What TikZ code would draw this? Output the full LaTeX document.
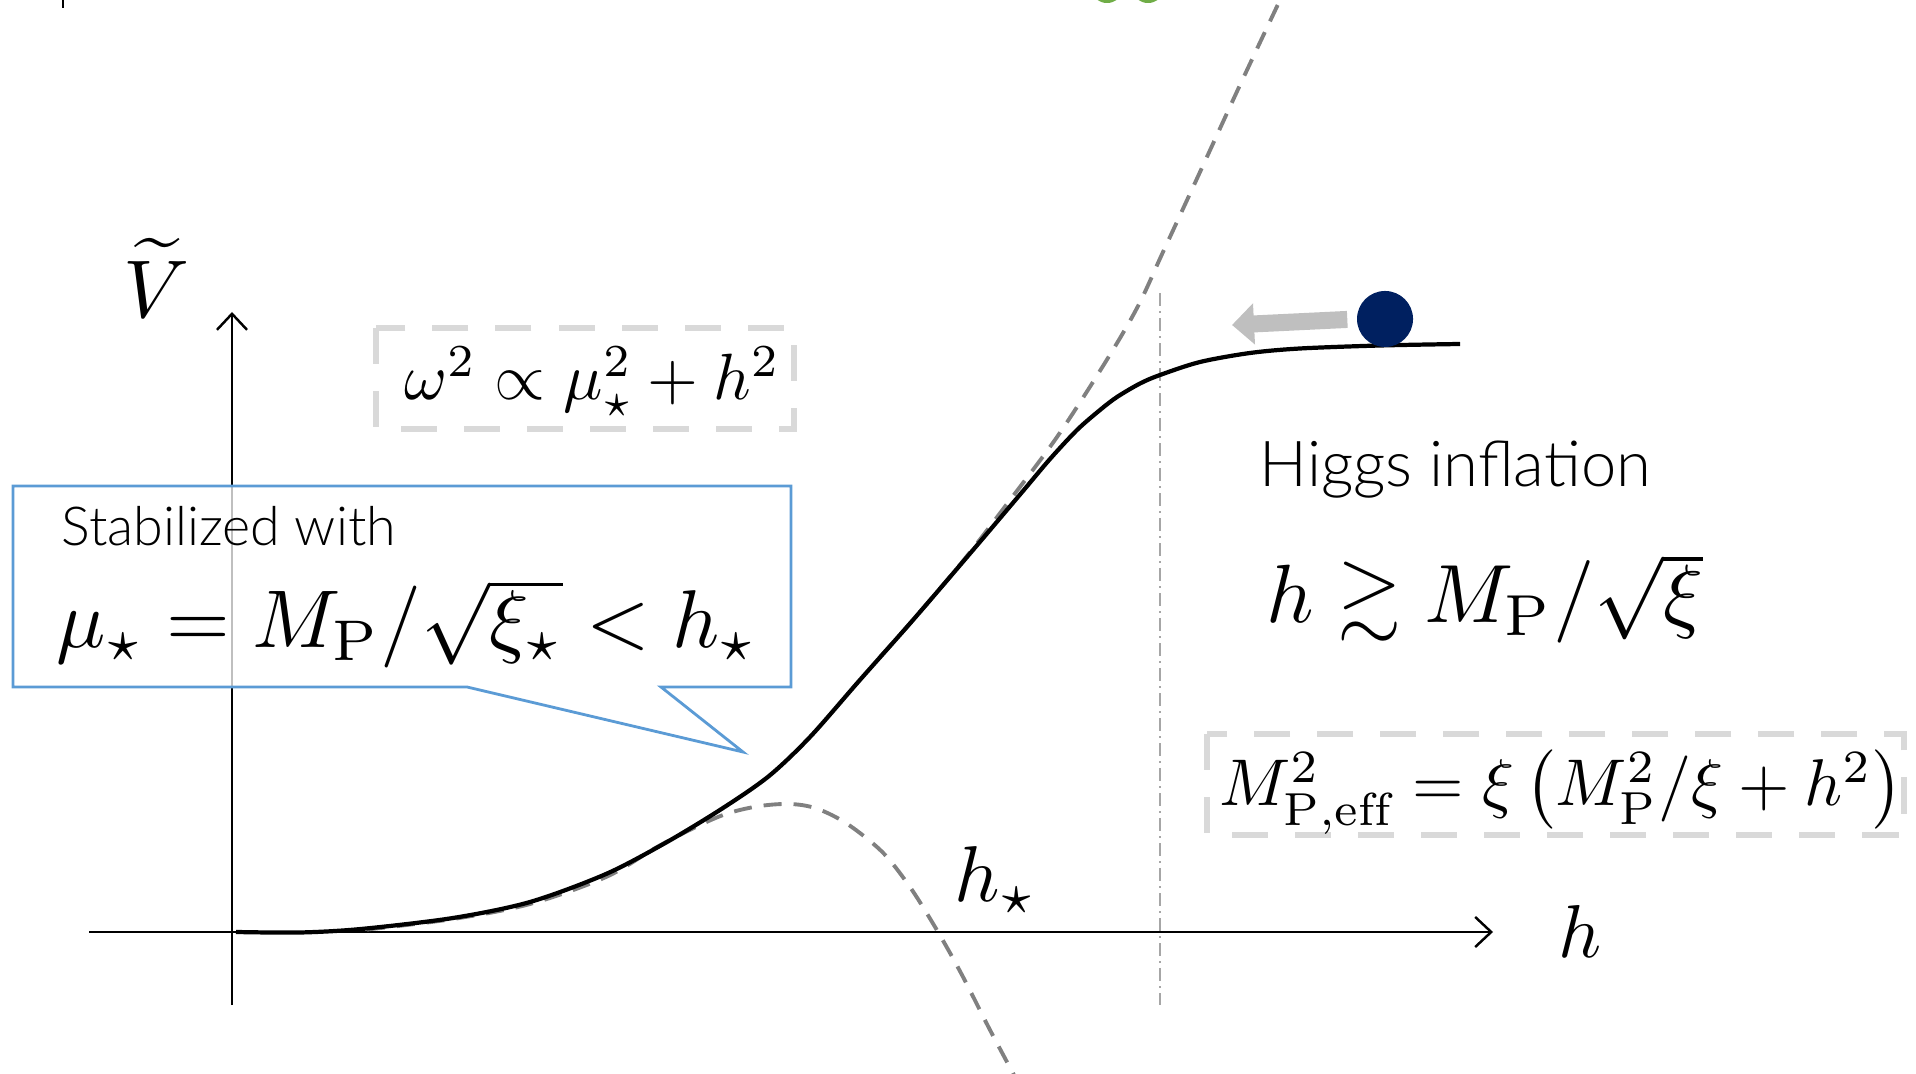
\documentclass[tikz,border=0pt]{standalone}
\usepackage{amssymb}
\usepackage{fontspec}
\newfontfamily\labelfont{Lato Light}
\usetikzlibrary{arrows.meta}
\definecolor{calloutblue}{RGB}{91,155,213}
\definecolor{ballnavy}{RGB}{0,32,96}
\definecolor{boxgray}{RGB}{217,217,217}
\definecolor{arrowgray}{RGB}{191,191,191}
\definecolor{titlegreen}{RGB}{112,173,71}
\tikzset{
  axis/.style={line width=0.7pt,-{Straight Barb[length=1.6mm,width=3mm]}},
  potential/.style={line width=1.2pt},
  guide/.style={black!50,line width=1.1pt,dash pattern=on 0.18cm off 0.12cm},
  threshold/.style={black!35,line width=0.6pt,dash pattern=on 0.13cm off 0.05cm on 0.02cm off 0.05cm},
  formulabox/.style={boxgray,line width=1.7pt,dash pattern=on 0.36cm off 0.27cm},
  callout/.style={draw=calloutblue,line width=0.8pt,fill=white,fill opacity=0.75},
  ball/.style={circle,fill=ballnavy,minimum size=0.56cm,inner sep=0pt},
  rollarrow/.style={arrowgray,line width=0.17cm,shorten <=0.9mm,-{Triangle[length=0.22cm,width=0.4cm]}},
  mathlabel/.style={inner sep=0pt,transform shape},
  textlabel/.style={inner sep=0pt},
}
\begin{document}
\begin{tikzpicture}[x=0.01cm,y=-0.01cm]
\useasboundingbox (0,0) rectangle (1916,1074);
\clip (0,0) rectangle (1916,1074);
% bits of the slide above
\draw[line width=0.6pt] (63,0) -- (63,8);
\fill[titlegreen] (1107,-8) ellipse[x radius=0.14cm,y radius=0.11cm];
\fill[titlegreen] (1148,-8) ellipse[x radius=0.14cm,y radius=0.11cm];

% axes
\draw[axis] (232,1005) -- (232,312);
\draw[axis] (89,932) -- (1493,932);
\node[mathlabel,scale=2.33,anchor=base] (vlabel) at (157,318) {$\widetilde{V}$};
\node[mathlabel,scale=2.13,anchor=base] (hlabel) at (1580,957) {$h$};
\node[mathlabel,scale=2.25,anchor=base west] (hstar) at (953,902) {$h_\star$};

% onset of the plateau
\draw[threshold] (1160,293) -- (1160,1005);

% quartic without stabilization, and negative quartic
\draw[guide] plot[smooth,tension=0.55] coordinates {(880,657) (913,620) (963,561) (1010,500) (1057,437) (1103,366) (1137,308) (1163,252) (1200,172) (1240,85) (1280,0) (1290,-22)};
\draw[guide] plot[smooth,tension=0.55] coordinates {(367,929.5) (453,919) (530,904) (606,877) (657,847) (700,825) (729,813) (760,806) (790,804) (815,808) (841,820) (865,837) (887,857) (912,890) (938,932) (962,975) (990,1030) (1022,1090)};

% stabilized potential
\draw[potential] plot[smooth,tension=0.5] coordinates {(236,932) (300,932.5) (361,929) (453,918) (530,902) (606,874) (667,842) (723,808) (769,776) (810,737) (859,681) (913,620) (973,550) (1023,491) (1050,459) (1077,430) (1100,410) (1117,397) (1140,383.5) (1160,375) (1200,362) (1250,353) (1300,348.5) (1380,345.5) (1460,344)};

% rolling field
\node[ball] (ball) at (1385,319) {};
\coordinate (rollto) at (1232,325);
\draw[rollarrow] (ball.west) -- (rollto);

% boxes
\draw[formulabox] (376,328) rectangle (794,429);
\node[mathlabel,scale=1.86,anchor=base west] (omega) at (403,400) {$\omega^2 \propto \mu_\star^2 + h^2$};

\draw[callout] (13,486) -- (791,486) -- (791,687) -- (661,687) -- (743,752) -- (467,687) -- (13,687) -- cycle;
\node[textlabel,font=\labelfont\fontsize{15.3}{18}\selectfont,anchor=base west] (stab) at (61,546) {Stabilized with};
\node[mathlabel,scale=2.33,anchor=base west] (mustar) at (55,648) {$\mu_\star = M_{\mathrm{P}}/\sqrt{\xi_\star} < h_\star$};

\node[textlabel,font=\labelfont\fontsize{18}{22}\selectfont,anchor=base west] (higgs) at (1259,487) {Higgs inflation};
\node[mathlabel,scale=2.35,anchor=base west] (hbound) at (1265,623) {$h \gtrsim M_{\mathrm{P}}/\sqrt{\xi}$};

\draw[formulabox] (1207,734) rectangle (1904,835);
\node[mathlabel,scale=1.88,anchor=base west] (mpeff) at (1218,806) {$M_{\mathrm{P,eff}}^2 = \xi\left(M_{\mathrm{P}}^2/\xi + h^2\right)$};
\end{tikzpicture}
\end{document}
